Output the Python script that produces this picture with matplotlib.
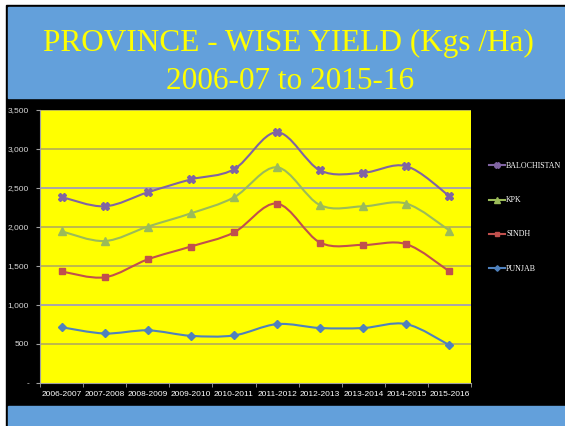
import numpy as np
import matplotlib
matplotlib.use('Agg')
from matplotlib import pyplot as plt
from matplotlib.patches import Rectangle, PathPatch
from matplotlib.path import Path
from matplotlib.lines import Line2D

# data
years = ['2006-2007', '2007-2008', '2008-2009', '2009-2010', '2010-2011',
         '2011-2012', '2012-2013', '2013-2014', '2014-2015', '2015-2016']
balochistan = [2385, 2265, 2445, 2610, 2740, 3215, 2725, 2695, 2780, 2395]
kpk = [1945, 1820, 2005, 2175, 2380, 2765, 2280, 2265, 2300, 1955]
sindh = [1430, 1355, 1585, 1750, 1930, 2300, 1800, 1770, 1780, 1430]
punjab = [715, 635, 675, 605, 610, 755, 705, 705, 755, 485]

W, H = 565, 426
fig = plt.figure(figsize=(W / 100, H / 100), dpi=100)


def box(x0, y0, x1, y1, color):
    # pixel box (top-left origin) -> figure rect
    fig.patches.append(Rectangle((x0 / W, 1 - y1 / H), (x1 - x0) / W, (y1 - y0) / H,
                                 transform=fig.transFigure, color=color, zorder=-5))


blue = '#63a0db'
box(6, 5, W, H, 'black')
box(8, 7, W, 98, blue)
box(8, 406, W, H, blue)

fig.text(288 / W, 1 - 51 / H, 'PROVINCE - WISE YIELD (Kgs /Ha)', ha='center', va='baseline',
         color='#ffff00', fontsize=22.5, family='Liberation Serif')
fig.text(290 / W, 1 - 89 / H, '2006-07 to 2015-16', ha='center', va='baseline',
         color='#ffff00', fontsize=22.5, family='Liberation Serif')

ax = fig.add_axes([40 / W, 1 - 383 / H, (471 - 40) / W, (383 - 110) / H], zorder=2)
ax.set_facecolor('#ffff00')
ax.set_xlim(-0.5, len(years) - 0.5)
ax.set_ylim(0, 3500)

# gridlines
for v in range(500, 3501, 500):
    c = '#9b96c6' if v in (1000, 2500) else '#b3ad5a'
    ax.axhline(v, color=c, lw=1.2, zorder=1)


def smooth(xs, ys):
    pts = np.column_stack([xs, ys]).astype(float)
    verts = [pts[0]]
    codes = [Path.MOVETO]
    n = len(pts)
    for i in range(n - 1):
        p0 = pts[max(i - 1, 0)]
        p1 = pts[i]
        p2 = pts[i + 1]
        p3 = pts[min(i + 2, n - 1)]
        verts += [p1 + (p2 - p0) / 6, p2 - (p3 - p1) / 6, p2]
        codes += [Path.CURVE4] * 3
    return Path(verts, codes)


x = np.arange(len(years))
series = [
    ('PUNJAB', punjab, '#4f81bd', 'D', 4),
    ('SINDH', sindh, '#c0504d', 's', 5),
    ('KPK', kpk, '#9bbb59', '^', 5.5),
    ('BALOCHISTAN', balochistan, '#8064a2', 'X', 6),
]
handles = []
for name, vals, col, mk, ms in series:
    ax.add_patch(PathPatch(smooth(x, vals), fill=False, edgecolor=col, lw=1.5, zorder=3))
    ax.plot(x, vals, linestyle='none', marker=mk, ms=ms, color=col, zorder=4)
    handles.append(Line2D([], [], color=col, lw=1.5, marker=mk, ms=ms * 0.7, label=name))

ax.set_xticks(x)
ax.set_xticklabels(years)
ax.set_xticks(np.arange(-0.5, len(years), 1), minor=True)
ax.tick_params(axis='x', which='major', length=0, pad=6, labelsize=6, labelcolor='white')
ax.tick_params(axis='x', which='minor', length=3, color='#a0a0a0', direction='out')
ax.set_yticks(range(0, 3501, 500))
ax.set_yticklabels(['-'] + ['{:,}'.format(v) for v in range(500, 3501, 500)])
ax.tick_params(axis='y', length=3, color='#a0a0a0', labelsize=6, labelcolor='#d9d9d9', pad=5)
for lab in ax.get_xticklabels() + ax.get_yticklabels():
    lab.set_family('Liberation Sans')
for s in ['top', 'right']:
    ax.spines[s].set_visible(False)
for s in ['left', 'bottom']:
    ax.spines[s].set_color('#a0a0a0')

leg = ax.legend(handles=handles[::-1], loc='upper left', bbox_to_anchor=(486 / W, 1 - 159 / H),
                bbox_transform=fig.transFigure, frameon=False, fontsize=5.7,
                labelspacing=3.3, handlelength=2.0, handletextpad=0.15, borderaxespad=0)
for t in leg.get_texts():
    t.set_color('white')
    t.set_family('Liberation Serif')

fig.savefig('out.png', dpi=100)
